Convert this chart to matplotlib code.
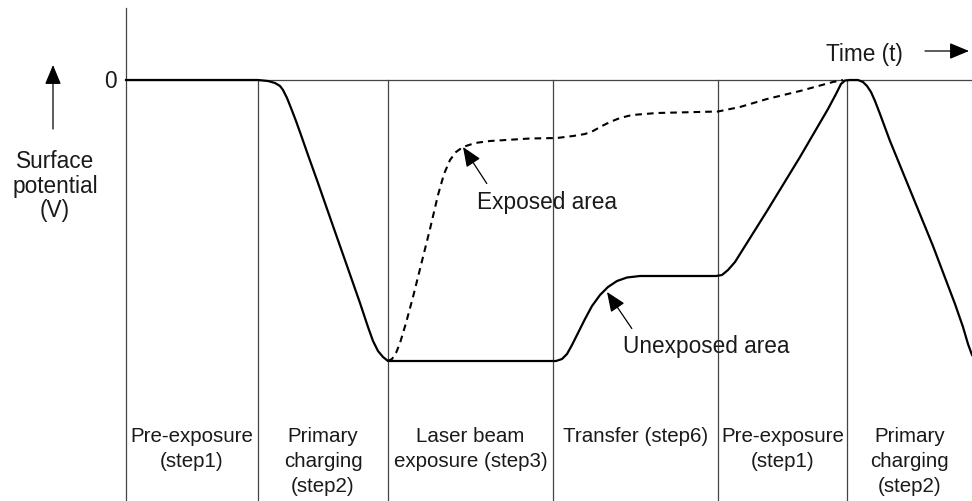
import matplotlib
matplotlib.use("Agg")
import matplotlib.pyplot as plt

plt.rcParams['font.family'] = ['Liberation Sans', 'DejaVu Sans']

# Time axis runs right; potential 0 at top line, negative downward (arbitrary units)
step_bounds = [0, 132, 262, 427, 592, 721, 846]
step_labels = ["Pre-exposure\n(step1)", "Primary\ncharging\n(step2)",
               "Laser beam\nexposure (step3)", "Transfer (step6)",
               "Pre-exposure\n(step1)", "Primary\ncharging\n(step2)"]

unexp_t = [0, 132, 142, 149, 154, 157, 161, 165, 170, 175, 182, 192, 207, 220,
           234, 242, 247, 252, 257, 262, 430, 436, 441, 446, 452, 459, 466, 474,
           482, 491, 501, 514, 590, 596, 602, 609, 641, 674, 702, 710, 715, 719,
           724, 732, 737, 741, 745, 749, 754, 764, 807, 829, 837, 842, 846]
unexp_v = [0, 0, -1, -3, -6, -10, -18, -28, -41, -55, -75, -103, -146, -183,
           -223, -247, -261, -271, -277, -281, -281, -279, -274, -265, -253, -239,
           -226, -215, -207, -201, -197.5, -196, -196, -195, -190, -182, -131,
           -77, -29, -14, -4, -0.5, 0, 0, -2, -6, -12, -21, -34, -61, -166, -224,
           -247, -264, -275]

exp_t = [262, 266, 270, 274, 280, 287, 294, 304, 312, 318, 324, 330, 337, 349,
         364, 404, 431, 447, 459, 467, 476, 484, 494, 506, 531, 592, 614, 641,
         674, 707, 717]
exp_v = [-281, -279, -273, -263, -243, -217, -189, -149, -115, -94, -80, -72,
         -67, -63, -61, -58.5, -58, -56, -54, -51, -46, -42, -38, -35, -33,
         -31.5, -27, -19, -11, -2, 0]

fig = plt.figure(figsize=(9.72, 5.02), dpi=100)
ax = fig.add_axes([0, 0, 1, 1])
ax.set_xlim(-126, 846)
ax.set_ylim(-421, 81)
ax.axis('off')

line_col = '#444444'
# y axis line and zero line
ax.plot([0, 0], [72, -421], color=line_col, lw=0.9)
ax.plot([0, 846], [0, 0], color=line_col, lw=0.9)
for b in step_bounds[1:-1]:
    ax.plot([b, b], [0, -421], color=line_col, lw=0.9)

# curves
ax.plot(unexp_t, unexp_v, color='black', lw=1.6, solid_joinstyle='round')
ax.plot(exp_t, exp_v, color='black', lw=1.5, linestyle=(0, (3.2, 2.4)))

fs_step = 14.8
fs = 16.3
tc = '#1a1a1a'
head = dict(arrowstyle='-|>,head_length=0.6,head_width=0.25', color='black',
            lw=0.9, mutation_scale=20, shrinkA=0, shrinkB=0)

for i, lab in enumerate(step_labels):
    xc = (step_bounds[i] + step_bounds[i + 1]) / 2
    ax.text(xc, -346, lab, ha='center', va='top', fontsize=fs_step, color=tc,
            linespacing=1.4)

ax.text(-9, 0, "0", ha='right', va='center', fontsize=fs, color=tc)
ax.text(-71, -105, "Surface\npotential\n(V)", ha='center', va='center',
        fontsize=fs, color=tc, linespacing=1.1)
ax.annotate("", xy=(-73, 15), xytext=(-73, -49), arrowprops=head)

ax.text(777, 26, "Time (t)", ha='right', va='center', fontsize=fs, color=tc)
ax.annotate("", xy=(843, 29), xytext=(799, 29), arrowprops=head)

ax.annotate("Exposed area", xy=(337, -67), xytext=(351, -121),
            ha='left', va='center', fontsize=fs, color=tc,
            arrowprops=dict(head, relpos=(0.07, 1.26)))
ax.annotate("Unexposed area", xy=(481, -212), xytext=(497, -266),
            ha='left', va='center', fontsize=fs, color=tc,
            arrowprops=dict(head, relpos=(0.053, 1.26)))

fig.savefig("out.png", dpi=100)
